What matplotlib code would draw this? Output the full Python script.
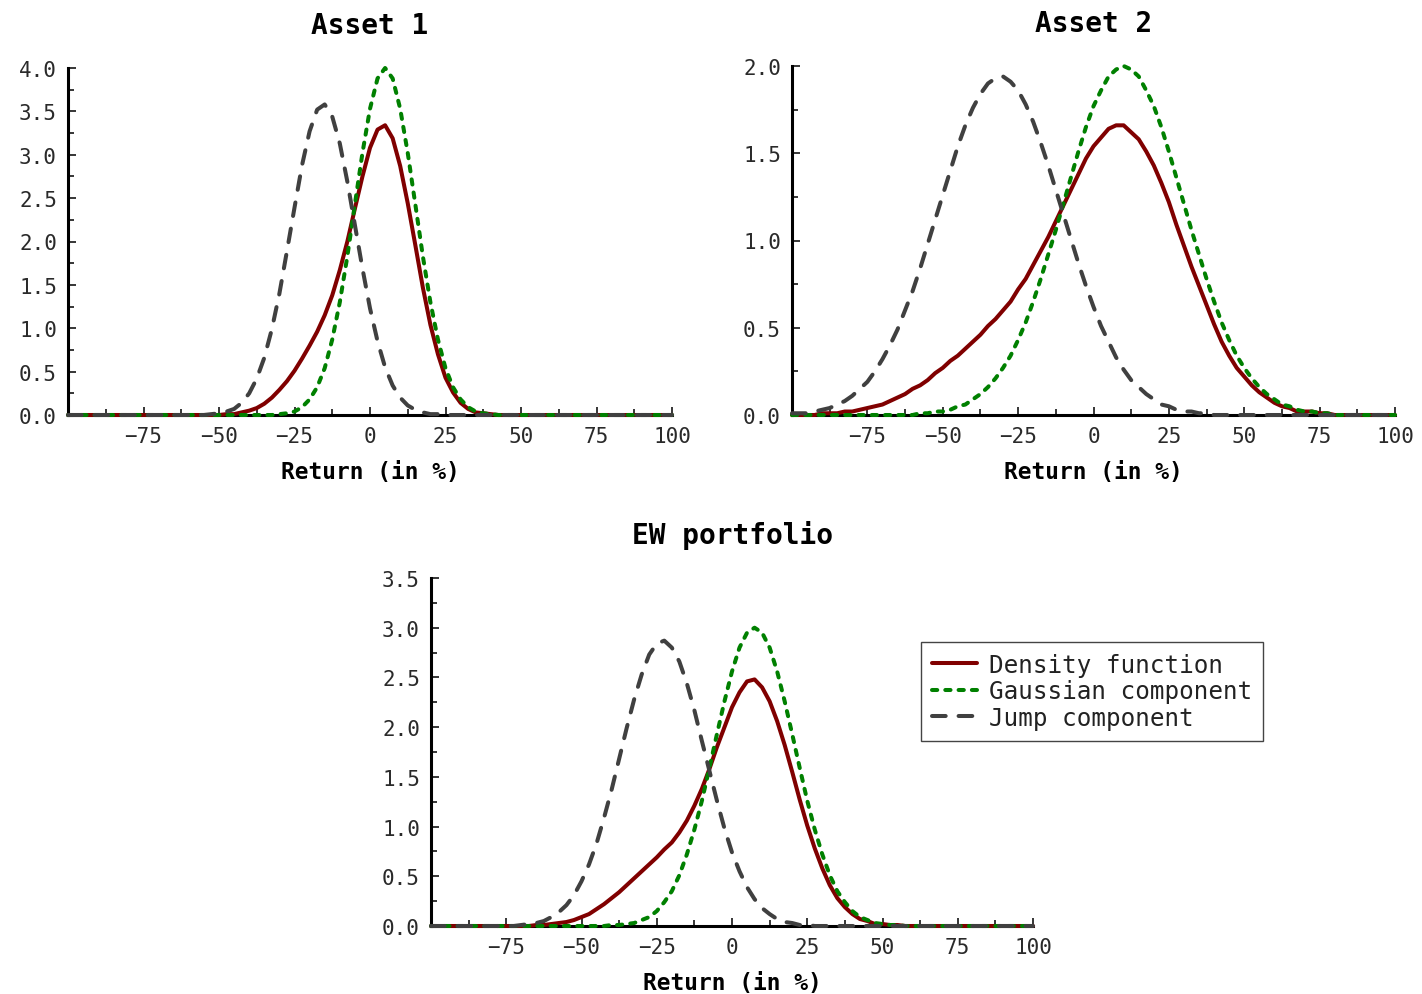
import numpy as np
import matplotlib
matplotlib.use("Agg")
import matplotlib.pyplot as plt
from matplotlib.ticker import MultipleLocator, FixedLocator, FormatStrFormatter

plt.rcParams['font.family'] = ['DejaVu Sans Mono', 'DejaVu Sans']

# Return grid (in %), one value every 2.5 points from -100 to 100
RETURNS = np.arange(-100, 100.1, 2.5)

# Asset 1
asset1_density = [
    0, 0, 0, 0, 0, 0, 0, 0, 0,
    0, 0, 0, 0, 0, 0, 0, 0, 0,
    0, 0, 0, 0.01, 0.01, 0.03, 0.05, 0.08, 0.13,
    0.20, 0.29, 0.39, 0.51, 0.65, 0.80, 0.96, 1.15, 1.38,
    1.67, 2.00, 2.38, 2.75, 3.08, 3.29, 3.34, 3.19, 2.87,
    2.44, 1.96, 1.47, 1.04, 0.70, 0.43, 0.26, 0.14, 0.07,
    0.03, 0.02, 0.01, 0, 0, 0, 0, 0, 0,
    0, 0, 0, 0, 0, 0, 0, 0, 0,
    0, 0, 0, 0, 0, 0, 0, 0, 0,
]
asset1_gauss = [
    0, 0, 0, 0, 0, 0, 0, 0, 0,
    0, 0, 0, 0, 0, 0, 0, 0, 0,
    0, 0, 0, 0, 0, 0, 0, 0, 0,
    0, 0.01, 0.02, 0.04, 0.09, 0.18, 0.32, 0.54, 0.87,
    1.30, 1.83, 2.43, 3.02, 3.53, 3.88, 4.00, 3.88, 3.53,
    3.02, 2.43, 1.83, 1.30, 0.87, 0.54, 0.32, 0.18, 0.09,
    0.04, 0.02, 0.01, 0, 0, 0, 0, 0, 0,
    0, 0, 0, 0, 0, 0, 0, 0, 0,
    0, 0, 0, 0, 0, 0, 0, 0, 0,
]
asset1_jump = [
    0, 0, 0, 0, 0, 0, 0, 0, 0,
    0, 0, 0, 0, 0, 0, 0, 0, 0,
    0, 0.01, 0.02, 0.04, 0.07, 0.14, 0.25, 0.42, 0.66,
    0.99, 1.40, 1.89, 2.39, 2.88, 3.27, 3.52, 3.58, 3.44,
    3.13, 2.69, 2.19, 1.69, 1.23, 0.85, 0.55, 0.34, 0.20,
    0.11, 0.06, 0.03, 0.01, 0.01, 0, 0, 0, 0,
    0, 0, 0, 0, 0, 0, 0, 0, 0,
    0, 0, 0, 0, 0, 0, 0, 0, 0,
    0, 0, 0, 0, 0, 0, 0, 0, 0,
]

# Asset 2
asset2_density = [
    0, 0, 0, 0, 0.01, 0.01, 0.01, 0.02, 0.02,
    0.03, 0.04, 0.05, 0.06, 0.08, 0.10, 0.12, 0.15, 0.17,
    0.20, 0.24, 0.27, 0.31, 0.34, 0.38, 0.42, 0.46, 0.51,
    0.55, 0.60, 0.65, 0.72, 0.78, 0.86, 0.94, 1.02, 1.11,
    1.20, 1.29, 1.38, 1.47, 1.54, 1.59, 1.64, 1.66, 1.66,
    1.62, 1.58, 1.51, 1.43, 1.33, 1.22, 1.09, 0.97, 0.85,
    0.74, 0.63, 0.52, 0.42, 0.34, 0.27, 0.22, 0.17, 0.13,
    0.10, 0.07, 0.05, 0.04, 0.02, 0.02, 0.02, 0.01, 0.01,
    0, 0, 0, 0, 0, 0, 0, 0, 0,
]
asset2_gauss = [
    0, 0, 0, 0, 0, 0, 0, 0, 0,
    0, 0, 0, 0, 0, 0, 0, 0, 0.01,
    0.01, 0.02, 0.02, 0.03, 0.05, 0.06, 0.09, 0.12, 0.16,
    0.21, 0.27, 0.34, 0.43, 0.53, 0.65, 0.78, 0.92, 1.06,
    1.21, 1.36, 1.51, 1.65, 1.77, 1.86, 1.94, 1.98, 2.00,
    1.98, 1.94, 1.86, 1.77, 1.65, 1.51, 1.36, 1.21, 1.06,
    0.92, 0.78, 0.65, 0.53, 0.43, 0.34, 0.27, 0.21, 0.16,
    0.12, 0.09, 0.06, 0.05, 0.03, 0.02, 0.02, 0.01, 0.01,
    0, 0, 0, 0, 0, 0, 0, 0, 0,
]
asset2_jump = [
    0.01, 0.01, 0.01, 0.02, 0.03, 0.04, 0.06, 0.08, 0.11,
    0.15, 0.19, 0.25, 0.32, 0.40, 0.49, 0.60, 0.71, 0.84,
    0.98, 1.12, 1.26, 1.40, 1.54, 1.66, 1.76, 1.84, 1.90,
    1.93, 1.94, 1.91, 1.86, 1.78, 1.68, 1.56, 1.43, 1.29,
    1.15, 1.01, 0.87, 0.74, 0.62, 0.51, 0.42, 0.33, 0.26,
    0.20, 0.16, 0.12, 0.09, 0.06, 0.05, 0.03, 0.02, 0.02,
    0.01, 0.01, 0, 0, 0, 0, 0, 0, 0,
    0, 0, 0, 0, 0, 0, 0, 0, 0,
    0, 0, 0, 0, 0, 0, 0, 0, 0,
]

# Equally weighted portfolio
ew_density = [
    0, 0, 0, 0, 0, 0, 0, 0, 0,
    0, 0, 0, 0, 0, 0.01, 0.01, 0.02, 0.03,
    0.04, 0.06, 0.09, 0.12, 0.17, 0.22, 0.28, 0.34, 0.41,
    0.48, 0.55, 0.62, 0.69, 0.77, 0.84, 0.94, 1.06, 1.21,
    1.38, 1.58, 1.80, 2.00, 2.20, 2.35, 2.46, 2.48, 2.40,
    2.26, 2.06, 1.82, 1.55, 1.27, 1.01, 0.78, 0.58, 0.41,
    0.28, 0.19, 0.12, 0.07, 0.05, 0.02, 0.02, 0.01, 0.01,
    0, 0, 0, 0, 0, 0, 0, 0, 0,
    0, 0, 0, 0, 0, 0, 0, 0, 0,
]
ew_gauss = [
    0, 0, 0, 0, 0, 0, 0, 0, 0,
    0, 0, 0, 0, 0, 0, 0, 0, 0,
    0, 0, 0, 0, 0, 0, 0.01, 0.01, 0.02,
    0.03, 0.06, 0.09, 0.15, 0.24, 0.35, 0.51, 0.72, 0.97,
    1.26, 1.59, 1.93, 2.26, 2.56, 2.80, 2.95, 3.00, 2.95,
    2.80, 2.56, 2.26, 1.93, 1.59, 1.26, 0.97, 0.72, 0.51,
    0.35, 0.24, 0.15, 0.09, 0.06, 0.03, 0.02, 0.01, 0.01,
    0, 0, 0, 0, 0, 0, 0, 0, 0,
    0, 0, 0, 0, 0, 0, 0, 0, 0,
]
ew_jump = [
    0, 0, 0, 0, 0, 0, 0, 0, 0,
    0, 0, 0, 0.01, 0.02, 0.03, 0.05, 0.09, 0.14,
    0.21, 0.31, 0.45, 0.62, 0.83, 1.09, 1.37, 1.68, 1.99,
    2.28, 2.53, 2.73, 2.84, 2.87, 2.80, 2.66, 2.44, 2.17,
    1.86, 1.56, 1.26, 0.98, 0.74, 0.55, 0.39, 0.27, 0.18,
    0.12, 0.07, 0.04, 0.03, 0.01, 0.01, 0, 0, 0,
    0, 0, 0, 0, 0, 0, 0, 0, 0,
    0, 0, 0, 0, 0, 0, 0, 0, 0,
    0, 0, 0, 0, 0, 0, 0, 0, 0,
]

LABELS = ["Density function", "Gaussian component", "Jump component"]
XTICKS = [-75, -50, -25, 0, 25, 50, 75, 100]
XMINOR = [-87.5, -62.5, -37.5, -12.5, 12.5, 37.5, 62.5, 87.5]

W, H = 1422, 995
fig = plt.figure(figsize=(W / 100, H / 100), dpi=100)


def px_axes(left, top, right, bottom):
    return fig.add_axes([left / W, 1 - bottom / H, (right - left) / W, (bottom - top) / H])


def draw_panel(ax, title, density, gauss, jump, ymax):
    common = dict(lw=2.9, zorder=3, clip_on=False)
    ax.plot(RETURNS, density, color="#800000", solid_capstyle="round", label=LABELS[0], **common)
    ax.plot(RETURNS, gauss, color="#008000", linestyle=(0, (1.3, 2.0)),
            dash_capstyle="round", label=LABELS[1], **common)
    ax.plot(RETURNS, jump, color="#404040", linestyle=(0, (3.4, 3.2)),
            dash_capstyle="round", label=LABELS[2], **common)

    ax.set_xlim(-100, 100)
    ax.set_ylim(0, ymax)
    for side in ("top", "right"):
        ax.spines[side].set_visible(False)
    for side in ("left", "bottom"):
        ax.spines[side].set_linewidth(2.2)

    ax.xaxis.set_major_locator(FixedLocator(XTICKS))
    ax.xaxis.set_minor_locator(FixedLocator(XMINOR))
    ax.yaxis.set_major_locator(MultipleLocator(0.5))
    ax.yaxis.set_minor_locator(MultipleLocator(0.25))
    ax.yaxis.set_major_formatter(FormatStrFormatter("%.1f"))
    ax.tick_params(which="major", direction="in", length=6, width=1.1,
                   labelsize=15, labelcolor="#2a2a2a", pad=8)
    ax.tick_params(which="minor", direction="in", length=4, width=1.1)

    ax.set_title(title, fontsize=20, fontweight="bold", pad=25)
    ax.set_xlabel("Return (in %)", fontsize=16.5, fontweight="bold", labelpad=10)


ax1 = px_axes(68, 69, 672, 416)
draw_panel(ax1, "Asset 1", asset1_density, asset1_gauss, asset1_jump, 4.0)

ax2 = px_axes(792, 67, 1395, 416)
draw_panel(ax2, "Asset 2", asset2_density, asset2_gauss, asset2_jump, 2.0)

ax3 = px_axes(431, 579, 1033, 927)
draw_panel(ax3, "EW portfolio", ew_density, ew_gauss, ew_jump, 3.5)

handles, labels = ax3.get_legend_handles_labels()
leg = fig.legend(handles, labels, loc="upper left",
                 bbox_to_anchor=(921 / W, 1 - 643 / H),
                 fontsize=17.5, frameon=True, fancybox=False, framealpha=1,
                 edgecolor="#444444", handlelength=1.85, handletextpad=0.5,
                 labelspacing=0.1, borderpad=0.45, borderaxespad=0)
leg.get_frame().set_linewidth(1.0)
for txt in leg.get_texts():
    txt.set_color("#222222")

fig.savefig("out.png", dpi=100)
